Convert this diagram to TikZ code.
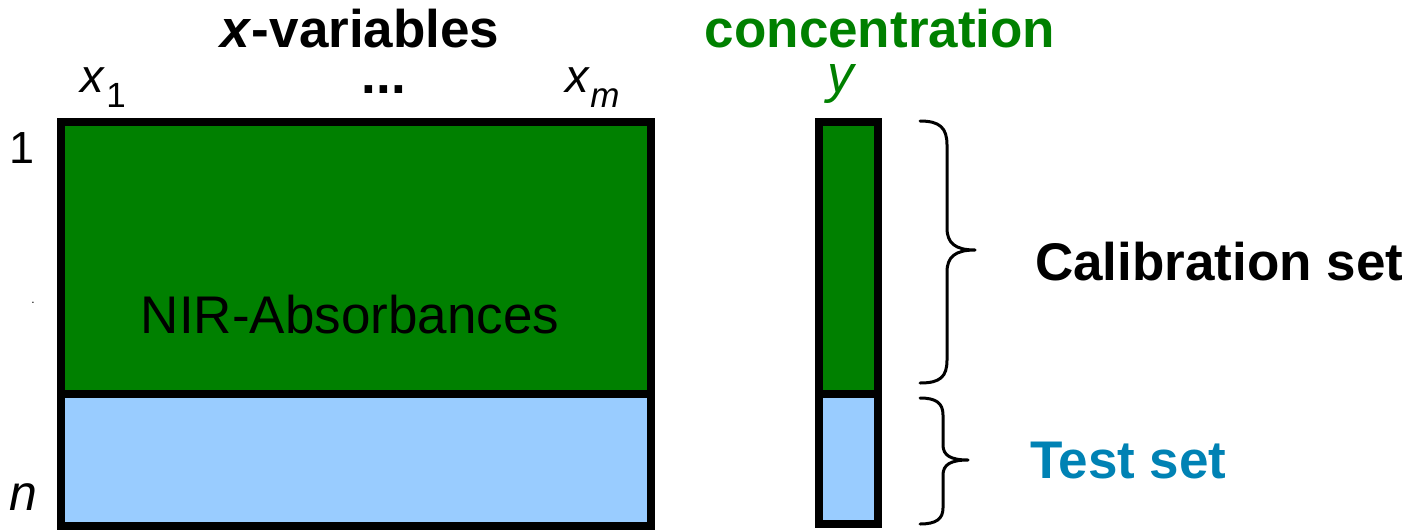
\documentclass[tikz,border=0pt]{standalone}
\usepackage{fontspec}
\setmainfont{Liberation Sans}
\definecolor{calgreen}{HTML}{008000}
\definecolor{testblue}{HTML}{99CCFF}
\definecolor{testtext}{HTML}{0082B4}
\begin{document}
\begin{tikzpicture}[x=1pt,y=-1pt,
  big/.style={font=\fontsize{53}{60}\selectfont, inner sep=0pt},
  bigbold/.style={font=\fontsize{53}{60}\selectfont\bfseries, inner sep=0pt},
  lbl/.style={font=\fontsize{47}{52}\selectfont, inner sep=0pt},
  sub/.style={font=\fontsize{35}{40}\selectfont, inner sep=0pt},
  block/.style={draw=black, line width=8pt, inner sep=0pt, outer sep=0pt, anchor=north west},
  bracepath/.style={draw=black, line width=3pt, line cap=round, line join=round}]
\useasboundingbox (0,0) rectangle (1407,530);

% data matrix: calibration rows (green) over test rows (blue)
\node[block, fill=calgreen, minimum width=590pt, minimum height=272pt] (Xcal) at (61,122) {};
\node[block, fill=testblue, minimum width=590pt, minimum height=132pt] (Xtest) at (61,394) {};

% response column
\node[block, fill=calgreen, minimum width=59pt, minimum height=272pt] (Ycal) at (819,122) {};
\node[block, fill=testblue, minimum width=59pt, minimum height=130pt] (Ytest) at (819,394) {};

% headings
\node[bigbold, anchor=base] (xvar) at (360,47) {\textit{x}-variables};
\node[bigbold, anchor=base, text=calgreen] (conc) at (880,47) {concentration};

% column labels
\node[lbl, anchor=base west] (x1) at (80,92) {\textit{x}};
\node[sub, anchor=base west, xshift=1pt] (x1s) at (x1.base east) [yshift=-15pt] {1};
\node[bigbold, anchor=base, text height=0.15em, text depth=0pt] (dots) at (384,93) {...};
\node[lbl, anchor=base west] (xm) at (565,92) {\textit{x}};
\node[sub, anchor=base west] (xms) at (xm.base east) [yshift=-15pt] {\textit{m}};
\node[big, anchor=base, text=calgreen, text height=0.55em, text depth=0.2em] (ylab) at (842,92) {\textit{y}};

% row labels
\node[font=\fontsize{45}{50}\selectfont, inner sep=0pt, anchor=base west] (r1) at (9,163) {1};
\node[anchor=base, inner sep=0pt, font=\fontsize{12}{12}\selectfont] (rdot) at (33,303) {.};
\node[font=\fontsize{50}{56}\selectfont, inner sep=0pt, anchor=base west] (rn) at (9,510) {\textit{n}};

% matrix content
\node[big, anchor=base] (nir) at (350,333) {NIR-Absorbances};

% braces
\coordinate (cT) at (920,121);
\coordinate (cM) at (975,250);
\coordinate (cB) at (920,383);
\draw[bracepath] (cT) .. controls (940,121) and (947,128) .. (947,145)
  -- (947,228) .. controls (947,243) and (955,250) .. (cM)
  .. controls (955,250) and (947,257) .. (947,272)
  -- (947,360) .. controls (947,377) and (940,383) .. (cB);
\coordinate (tT) at (920,398);
\coordinate (tM) at (968,460);
\coordinate (tB) at (920,524);
\draw[bracepath] (tT) .. controls (936,398) and (943,403) .. (943,415)
  -- (943,445) .. controls (943,455) and (950,460) .. (tM)
  .. controls (950,460) and (943,465) .. (943,475)
  -- (943,508) .. controls (943,519) and (936,524) .. (tB);

% set labels
\node[bigbold, anchor=base west] (calset) at (1035,280) {Calibration set};
\node[bigbold, anchor=base west, text=testtext] (testset) at (1030,478) {Test set};
\end{tikzpicture}
\end{document}
